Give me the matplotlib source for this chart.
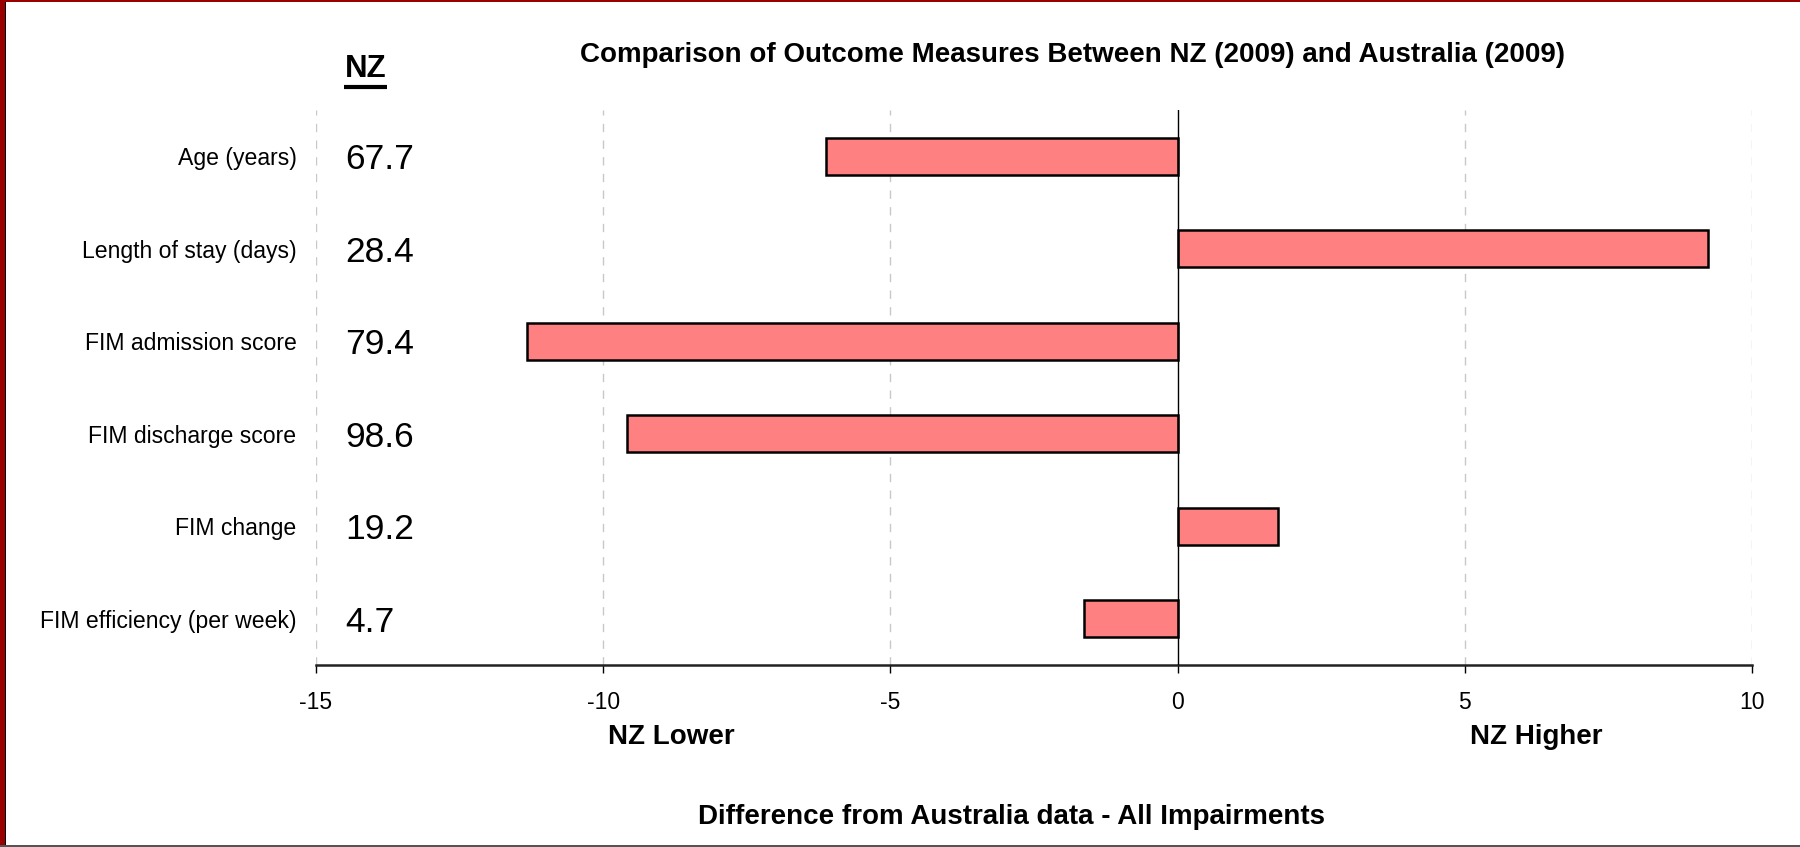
import matplotlib
matplotlib.use("Agg")
import matplotlib.pyplot as plt
import matplotlib.transforms as mtransforms
from matplotlib.lines import Line2D
from matplotlib.patches import Rectangle

plt.rcParams['font.family'] = ['Liberation Sans', 'DejaVu Sans']

categories = ["Age (years)", "Length of stay (days)", "FIM admission score",
              "FIM discharge score", "FIM change", "FIM efficiency (per week)"]
nz_values = ["67.7", "28.4", "79.4", "98.6", "19.2", "4.7"]
differences = [-6.12, 9.23, -11.33, -9.59, 1.74, -1.63]
x_ticks = [-15, -10, -5, 0, 5, 10]

W, H = 1800, 847
fig = plt.figure(figsize=(W / 100, H / 100), dpi=100)
fig.patch.set_facecolor('white')

ax = fig.add_axes([316 / W, 1 - 665 / H, (1752 - 316) / W, (665 - 110) / H])
ypos = list(range(len(categories)))
ax.barh(ypos, differences, height=0.4, color='#FF8080', edgecolor='black',
        linewidth=1.8, zorder=3)
ax.set_xlim(-15, 10)
ax.set_ylim(len(categories) - 0.5, -0.5)

for t in x_ticks:
    if t != 0:
        ax.axvline(t, color='#c8c8c8', linestyle=(0, (6, 6)), linewidth=1.0, zorder=1)
ax.axvline(0, color='black', linewidth=1.0, zorder=4)

for s in ['left', 'right', 'top']:
    ax.spines[s].set_visible(False)
ax.spines['bottom'].set_linewidth(1.8)
ax.spines['bottom'].set_color('#222222')

ax.set_xticks(x_ticks)
ax.set_xticklabels([str(t) for t in x_ticks], fontsize=16.5)
ax.tick_params(axis='x', direction='out', length=6, width=1.0, pad=13)
ax.set_yticks(ypos)
ax.set_yticklabels(categories, fontsize=16.6)
ax.tick_params(axis='y', length=0, pad=14)

# NZ values column
trans = mtransforms.blended_transform_factory(fig.transFigure, ax.transData)
for i, v in enumerate(nz_values):
    ax.text(345 / W, i + 0.04, v, transform=trans, fontsize=25.5, ha='left', va='center')

# Header "NZ" underlined
nz = fig.text(345 / W, 1 - 77 / H, "NZ", fontsize=22.5, fontweight='bold',
              ha='left', va='baseline')

# Title
fig.text(1072 / W, 1 - 55 / H,
         "Comparison of Outcome Measures Between NZ (2009) and Australia (2009)",
         fontsize=20, fontweight='bold', ha='center', va='center')

fig.text(671 / W, 1 - 737 / H, "NZ Lower", fontsize=20, fontweight='bold', ha='center', va='center')
fig.text(1536 / W, 1 - 737 / H, "NZ Higher", fontsize=20, fontweight='bold', ha='center', va='center')
fig.text(1011 / W, 1 - 817 / H, "Difference from Australia data - All Impairments",
         fontsize=20, fontweight='bold', ha='center', va='center')

# borders
fig.patches.append(Rectangle((0, 0), 4.5 / W, 1, transform=fig.transFigure,
                             facecolor='#990000', edgecolor='none', zorder=10))
fig.patches.append(Rectangle((4.5 / W, 0), 1.2 / W, 1, transform=fig.transFigure,
                             facecolor='black', edgecolor='none', zorder=10))
fig.patches.append(Rectangle((0, 1 - 2 / H), 1, 2 / H, transform=fig.transFigure,
                             facecolor='#990000', edgecolor='none', zorder=10))
fig.patches.append(Rectangle((0, 0), 1, 2 / H, transform=fig.transFigure,
                             facecolor='#555555', edgecolor='none', zorder=10))

fig.canvas.draw()
bb = nz.get_window_extent(renderer=fig.canvas.get_renderer())
uy = 1 - 87 / H
fig.add_artist(Line2D([344 / W, bb.x1 / W], [uy, uy], transform=fig.transFigure,
                      color='black', linewidth=3.0, solid_capstyle='butt'))

fig.savefig("out.png", dpi=100, facecolor='white')
